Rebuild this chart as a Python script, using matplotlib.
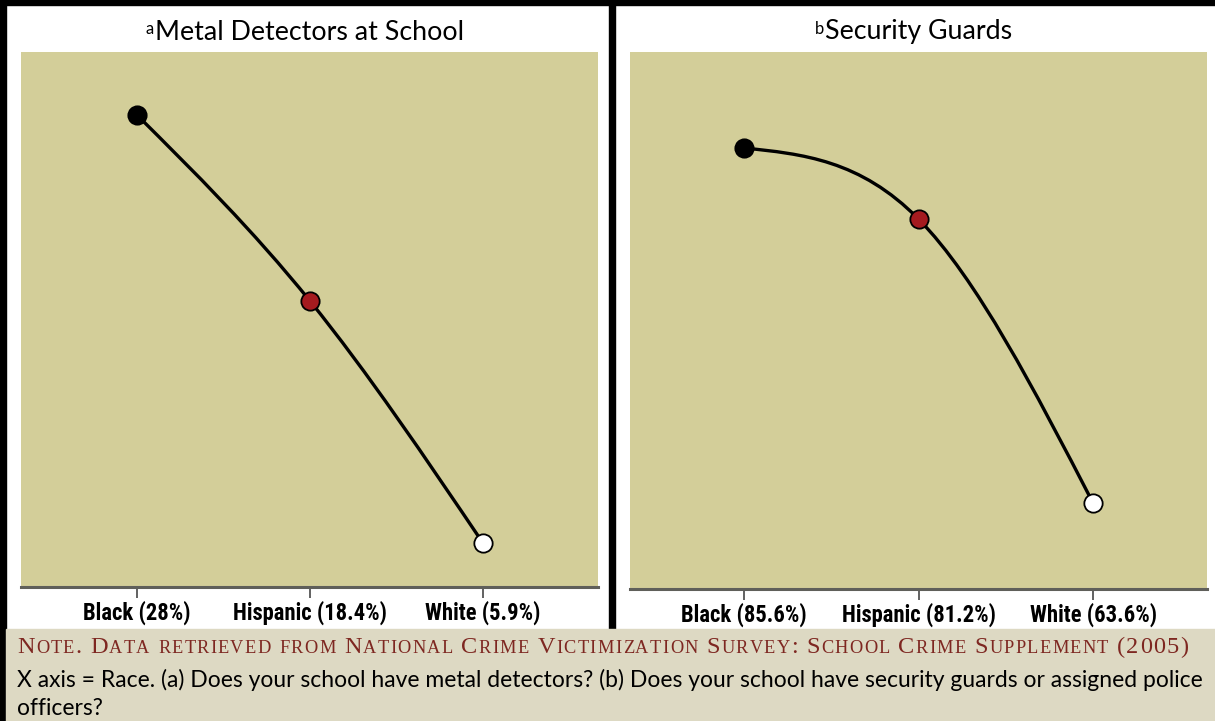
import numpy as np
import matplotlib
matplotlib.use("Agg")
import matplotlib.pyplot as plt
from matplotlib.path import Path
from matplotlib.patches import PathPatch, Rectangle

# data
races = ["Black", "Hispanic", "White"]
metal_detectors = [28, 18.4, 5.9]
security_guards = [85.6, 81.2, 63.6]
titles = ["Metal Detectors at School", "Security Guards"]
title_marks = ["a", "b"]
point_colors = ["#000000", "#A51B1F", "#FFFFFF"]
note_head = "Note. Data retrieved from National Crime Victimization Survey: School Crime Supplement (2005)"
note_body = ["X axis = Race. (a) Does your school have metal detectors? (b) Does your school have security guards or assigned police",
             "officers?"]

PLOT_BG = "#D3CE99"
NOTE_BG = "#DDD9C3"
NOTE_RED = "#7E2721"
SANS = ["Lato", "DejaVu Sans"]
NARROW = ["Liberation Sans Narrow", "DejaVu Sans Condensed", "Roboto Condensed", "Lato"]
SERIF = ["Liberation Serif", "DejaVu Serif"]


def spline_path(xs, ys):
    # natural cubic spline through the points, written as bezier segments
    xs = np.asarray(xs, float)
    ys = np.asarray(ys, float)
    n = len(xs)
    h = np.diff(xs)
    A = np.zeros((n, n))
    r = np.zeros(n)
    A[0, 0] = A[-1, -1] = 1
    for i in range(1, n - 1):
        A[i, i - 1] = h[i - 1]
        A[i, i] = 2 * (h[i - 1] + h[i])
        A[i, i + 1] = h[i]
        r[i] = 6 * ((ys[i + 1] - ys[i]) / h[i] - (ys[i] - ys[i - 1]) / h[i - 1])
    M = np.linalg.solve(A, r)
    verts = [(xs[0], ys[0])]
    codes = [Path.MOVETO]
    for i in range(n - 1):
        s0 = (ys[i + 1] - ys[i]) / h[i] - h[i] * (2 * M[i] + M[i + 1]) / 6
        s1 = (ys[i + 1] - ys[i]) / h[i] + h[i] * (M[i] + 2 * M[i + 1]) / 6
        verts += [(xs[i] + h[i] / 3, ys[i] + s0 * h[i] / 3),
                  (xs[i + 1] - h[i] / 3, ys[i + 1] - s1 * h[i] / 3),
                  (xs[i + 1], ys[i + 1])]
        codes += [Path.CURVE4] * 3
    return Path(verts, codes)


fig = plt.figure(figsize=(12.15, 7.21), dpi=100)
fig.patch.set_facecolor("white")

# black frame bits and note box
fig.patches.append(Rectangle((0, 1 - 5 / 721), 1, 5 / 721, transform=fig.transFigure, color="black", zorder=0))
fig.patches.append(Rectangle((0, 0), 6 / 1215, 1, transform=fig.transFigure, color="black", zorder=0))
fig.patches.append(Rectangle((609 / 1215, 1 - 629 / 721), 6 / 1215, 629 / 721, transform=fig.transFigure,
                             color="black", zorder=0))
fig.patches.append(Rectangle((6 / 1215, 0), 1, 92 / 721, transform=fig.transFigure, color=NOTE_BG, zorder=0))

ax1 = fig.add_axes([21 / 1215, 1 - 587 / 721, 577 / 1215, 535 / 721])
ax2 = fig.add_axes([630 / 1215, 1 - 589 / 721, 577 / 1215, 537 / 721])

x = np.arange(1, len(races) + 1)
panels = [(ax1, metal_detectors, (0.33, 3.665), (3.63, 31.25)),
          (ax2, security_guards, (0.347, 3.653), (58.27, 91.55))]

for k, (ax, vals, xl, yl) in enumerate(panels):
    ax.set_facecolor(PLOT_BG)
    ax.add_patch(PathPatch(spline_path(x, vals), facecolor="none", edgecolor="black", lw=2.4, zorder=2))
    for xi, v, c in zip(x, vals, point_colors):
        ax.plot(xi, v, "o", ms=13.2, mfc=c, mec="black", mew=1.3, zorder=3)
    ax.set_xlim(*xl)
    ax.set_ylim(*yl)
    ax.set_yticks([])
    ax.set_xticks(x)
    ax.set_xticklabels([f"{r} ({v:g}%)" for r, v in zip(races, vals)],
                       family=NARROW, fontweight="bold", fontsize=16.3)
    ax.tick_params(axis="x", length=8, width=1.3, color="#555555", pad=1.5)
    for s in ["top", "left", "right"]:
        ax.spines[s].set_visible(False)
    ax.spines["bottom"].set_color("#5F5F5A")
    ax.spines["bottom"].set_linewidth(2.2)

    t = ax.text(0.5, 1 + 12.5 / 535, titles[k], transform=ax.transAxes, ha="center", va="baseline",
                family=SANS, fontsize=19.3)
    ax.annotate(title_marks[k], xy=(-0.005, 0.93), xycoords=t, ha="right", va="top", family=SANS, fontsize=12)

# note heading in small caps, letter by letter so it can be tracked out
fig.canvas.draw()
renderer = fig.canvas.get_renderer()
big, small = 17.5, 13.2
base_y = 1 - 653 / 721
pieces = []
for wi, word in enumerate(note_head.split(" ")):
    for ch in word:
        low = ch.islower()
        t = fig.text(0, base_y, ch.upper(), family=SERIF, color=NOTE_RED,
                     fontsize=small if low else big, va="baseline", ha="left")
        w = t.get_window_extent(renderer).width
        pieces.append([t, w, wi])
n_words = len(note_head.split(" "))
space = big * 0.42
total_ink = sum(p[1] for p in pieces) + space * (n_words - 1)
gap = (1188 - 17 - total_ink) / (len(pieces) - 1)
xpos = 17
prev_w = 0
for t, w, wi in pieces:
    if wi != prev_w:
        xpos += space
        prev_w = wi
    t.set_x(xpos / 1215)
    xpos += w + gap

fig.text(17 / 1215, 1 - 687 / 721, note_body[0], family=SANS, fontsize=16.5, va="baseline", ha="left")
fig.text(17 / 1215, 1 - 715 / 721, note_body[1], family=SANS, fontsize=16.5, va="baseline", ha="left")

fig.savefig("out.png", dpi=100, facecolor=fig.get_facecolor())
